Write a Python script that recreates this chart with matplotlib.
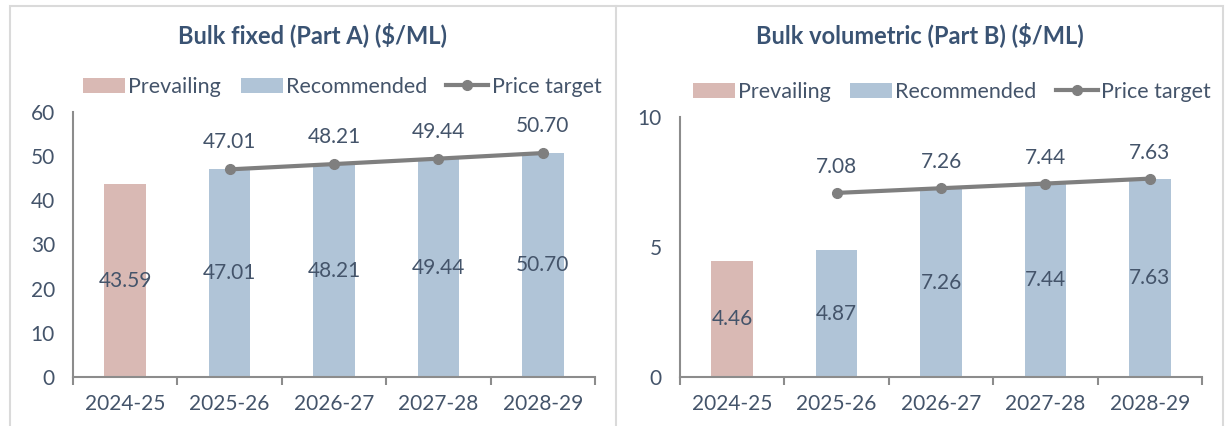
import matplotlib.pyplot as plt
import numpy as np
from matplotlib.patches import Rectangle
from matplotlib.lines import Line2D

plt.rcParams['font.family'] = ['Lato', 'DejaVu Sans']

years = ['2024-25', '2025-26', '2026-27', '2027-28', '2028-29']

# Part A
fixed_prevailing = [43.59, np.nan, np.nan, np.nan, np.nan]
fixed_recommended = [np.nan, 47.01, 48.21, 49.44, 50.70]
fixed_target = [np.nan, 47.01, 48.21, 49.44, 50.70]

# Part B
vol_prevailing = [4.46, np.nan, np.nan, np.nan, np.nan]
vol_recommended = [np.nan, 4.87, 7.26, 7.44, 7.63]
vol_target = [np.nan, 7.08, 7.26, 7.44, 7.63]

PREV_COL = '#D9B9B4'
REC_COL = '#B0C4D7'
LINE_COL = '#7F7F7F'
TEXT_COL = '#44546A'
TITLE_COL = '#3A5373'
BORDER_COL = '#DADADA'
W, H = 1227, 426


def draw_panel(ax, prevailing, recommended, target, ymax, ystep, label_off, leg_x):
    x = np.arange(len(years))
    b1 = ax.bar(x, prevailing, width=0.4, color=PREV_COL, label='Prevailing')
    b2 = ax.bar(x, recommended, width=0.4, color=REC_COL, label='Recommended')
    l1, = ax.plot(x, target, color=LINE_COL, lw=3, marker='o', ms=7, label='Price target')

    for vals in (prevailing, recommended):
        for xi, v in zip(x, vals):
            if not np.isnan(v):
                ax.text(xi, v / 2, f'{v:.2f}', ha='center', va='center', fontsize=15, color=TEXT_COL)
    for xi, v in zip(x, target):
        if not np.isnan(v):
            ax.text(xi, v + label_off, f'{v:.2f}', ha='center', va='center', fontsize=15, color=TEXT_COL)

    ax.set_xlim(-0.5, len(years) - 0.5)
    ax.set_ylim(0, ymax)
    ax.set_yticks(np.arange(0, ymax + 0.01, ystep))
    ax.set_xticks(x)
    ax.set_xticklabels(years)
    ax.set_xticks(np.arange(-0.5, len(years), 1), minor=True)
    ax.tick_params(axis='x', which='major', length=0, pad=12, labelsize=15, labelcolor=TEXT_COL)
    ax.tick_params(axis='x', which='minor', length=6, width=1.5, color='#8C8C8C')
    ax.tick_params(axis='y', length=0, pad=13, labelsize=15, labelcolor=TEXT_COL)
    for s in ['top', 'right']:
        ax.spines[s].set_visible(False)
    for s in ['left', 'bottom']:
        ax.spines[s].set_color('#8C8C8C')
        ax.spines[s].set_linewidth(1.5)

    ax.legend([b1, b2, l1], ['Prevailing', 'Recommended', 'Price target'],
              loc='center', bbox_to_anchor=(leg_x, 1 + 25 / (ax.bbox.height)), ncol=3,
              frameon=False, fontsize=15.5, labelcolor=TEXT_COL, handlelength=1.95,
              handletextpad=0.15, columnspacing=0.9, borderaxespad=0, borderpad=0)


fig = plt.figure(figsize=(W / 100, H / 100), dpi=100)

# outer frame + divider between the two charts
fig.patches.append(Rectangle((10 / W, -0.05), 1213 / W, 1.05 - 6 / H, transform=fig.transFigure,
                             fill=False, edgecolor=BORDER_COL, lw=1.5))
fig.lines.append(Line2D([616 / W, 616 / W], [0, 1 - 6 / H], transform=fig.transFigure,
                        color=BORDER_COL, lw=1.5))

ax1 = fig.add_axes([73 / W, 1 - 377 / H, 522 / W, 265 / H])
ax2 = fig.add_axes([680 / W, 1 - 377 / H, 522 / W, 260 / H])

draw_panel(ax1, fixed_prevailing, fixed_recommended, fixed_target, 60, 10, 6.1, 0.516)
draw_panel(ax2, vol_prevailing, vol_recommended, vol_target, 10, 5, 1.0, 0.521)

fig.text(313 / W, 1 - 35 / H, 'Bulk fixed (Part A) ($/ML)', ha='center', va='center',
         fontsize=17, fontweight='bold', color=TITLE_COL)
fig.text(920 / W, 1 - 35 / H, 'Bulk volumetric (Part B) ($/ML)', ha='center', va='center',
         fontsize=17, fontweight='bold', color=TITLE_COL)

fig.savefig('out.png', dpi=100)
